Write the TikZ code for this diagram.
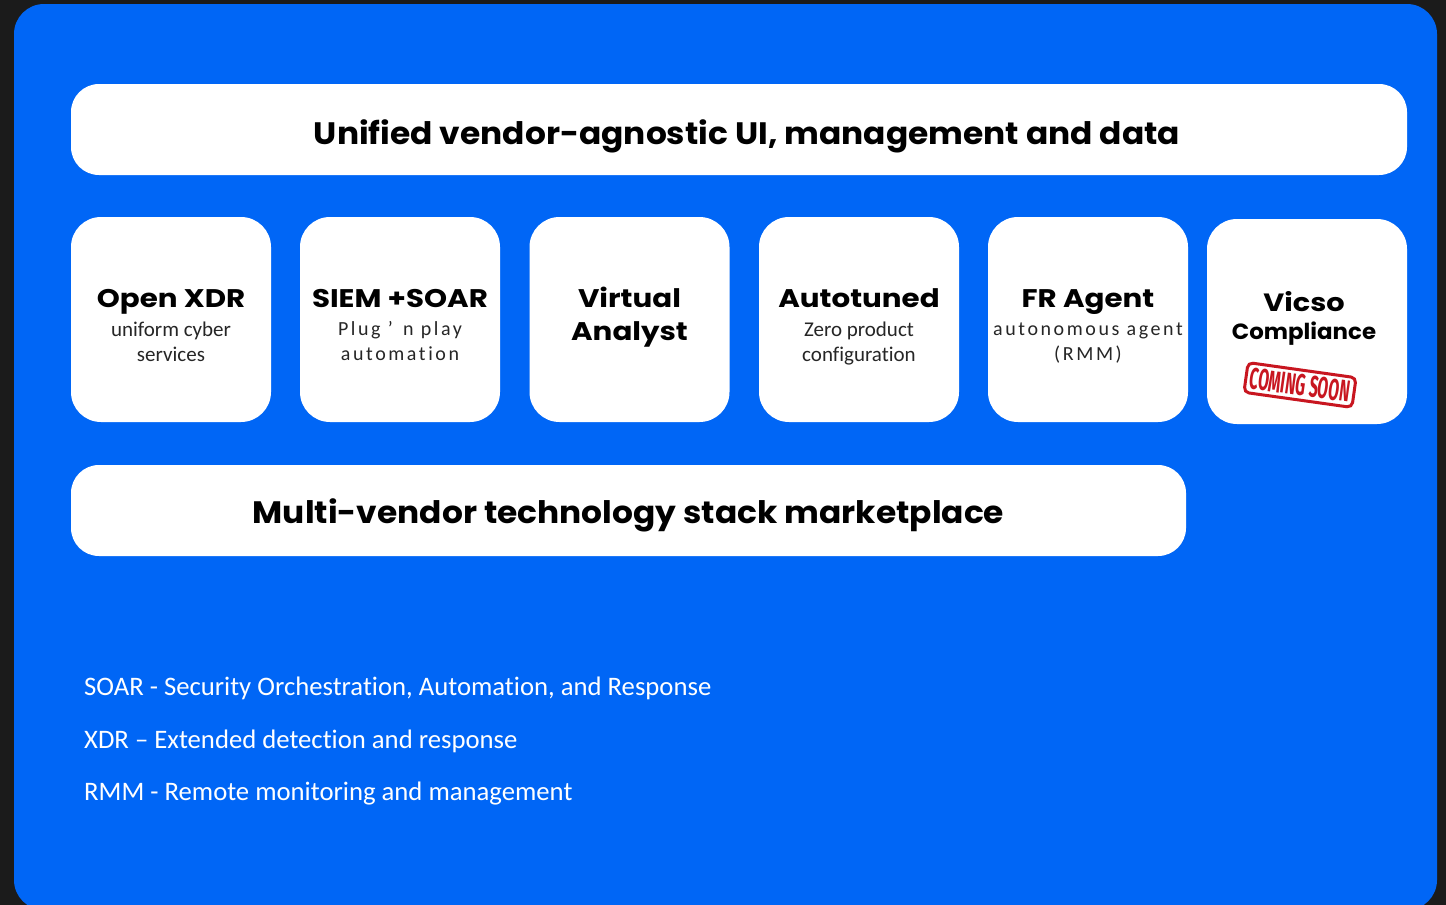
\documentclass[tikz,border=0pt]{standalone}
\usepackage{fontspec}
\setmainfont{Carlito}[Ligatures=CommonOff]
\newfontfamily\headfont{Poppins}
\newfontfamily\stampfont{Fira Sans}
\definecolor{panelblue}{RGB}{0,102,246}
\definecolor{pagedark}{RGB}{27,27,27}
\definecolor{stampred}{RGB}{200,22,32}

\tikzset{
  bar/.style={fill=white, rounded corners=28pt, inner sep=0pt, minimum height=91pt},
  tile/.style={fill=white, rounded corners=30pt, minimum width=200pt, minimum height=205pt, inner sep=0pt},
  bartitle/.style={font=\headfont\bfseries\fontsize{31}{34}\selectfont, anchor=base},
  tiletitle/.style={font=\headfont\bfseries\fontsize{25.5}{33}\selectfont, align=center, anchor=base},
  tilesub/.style={font=\fontsize{21}{25}\selectfont, text=black!85, align=center, anchor=base},
  spaced/.style={font=\addfontfeature{LetterSpace=13}\fontsize{20}{25}\selectfont, text=black!85, align=center, anchor=base},
  note/.style={font=\fontsize{26.7}{30}\selectfont, text=white, anchor=base west, inner sep=0pt},
  stamp/.style={draw=stampred, line width=3pt, rounded corners=5pt, text=stampred,
    font=\stampfont\bfseries\fontsize{30}{30}\selectfont, text height=21pt, text depth=0pt,
    inner xsep=4pt, inner ysep=4.5pt},
}

\begin{document}
\begin{tikzpicture}[x=1pt, y=-1pt]
  % page and panel
  \fill[pagedark] (0,0) rectangle (1446,905);
  \useasboundingbox (0,0) rectangle (1446,905);
  \begin{scope}
    \clip (0,0) rectangle (1446,905);
    \fill[panelblue, rounded corners=30pt] (14,4) rectangle (1437,910);
  \end{scope}

  % top and bottom bars
  \node[bar, minimum width=1336pt] (ui) at (739,129.5) {};
  \node[bartitle] (ui-t) at (747,144) {\scalebox{1.06}[1]{Unified vendor-agnostic UI, management and data}};
  \node[bar, minimum width=1115pt] (market) at (628.5,510.5) {};
  \node[bartitle] (market-t) at (628.5,523) {\scalebox{1.06}[1]{Multi-vendor technology stack marketplace}};

  % product tiles
  \node[tile] (xdr) at (171,319.5) {};
  \node[tile] (siem) at (400,319.5) {};
  \node[tile] (analyst) at (629.5,319.5) {};
  \node[tile] (tuned) at (859,319.5) {};
  \node[tile] (agent) at (1088,319.5) {};
  \node[tile] (vicso) at (1307,321.5) {};

  % base of a multi-line node is its last line
  \node[tiletitle] (xdr-t) at (171,307) {\scalebox{1.15}[1]{Open XDR}};
  \node[tilesub] (xdr-s) at (171,361) {uniform cyber\\services};
  \node[tiletitle] (siem-t) at (400,307) {\scalebox{1.15}[1]{SIEM +SOAR}};
  \node[spaced] (siem-s) at (400,360) {Plug ’ \,n play\\automation};
  \node[tiletitle] (analyst-t) at (629.5,340) {\scalebox{1.15}[1]{Virtual}\\\scalebox{1.15}[1]{Analyst}};
  \node[tiletitle] (tuned-t) at (859,307) {\scalebox{1.15}[1]{Autotuned}};
  \node[tilesub] (tuned-s) at (859,361) {Zero product\\configuration};
  \node[tiletitle] (agent-t) at (1088,307) {\scalebox{1.15}[1]{FR Agent}};
  \node[spaced] (agent-s) at (1088,360) {autonomous agent\\(RMM)};
  \node[tiletitle, font=\headfont\bfseries\fontsize{25}{28}\selectfont] (vicso-t) at (1304,311) {\scalebox{1.15}[1]{Vicso}};
  \node[tiletitle, font=\headfont\bfseries\fontsize{22}{28}\selectfont] (vicso-c) at (1304,339) {\scalebox{1.04}[1]{Compliance}};
  \node[stamp, rotate=-8] (soon) at (1300,385) {\scalebox{0.52}[1]{COMING SOON}};

  % abbreviations
  \node[note] (n1) at (84,695) {SOAR - Security Orchestration, Automation, and Response};
  \node[note] (n2) at (84,748) {XDR – Extended detection and response};
  \node[note] (n3) at (84,800) {RMM - Remote monitoring and management};
\end{tikzpicture}
\end{document}
